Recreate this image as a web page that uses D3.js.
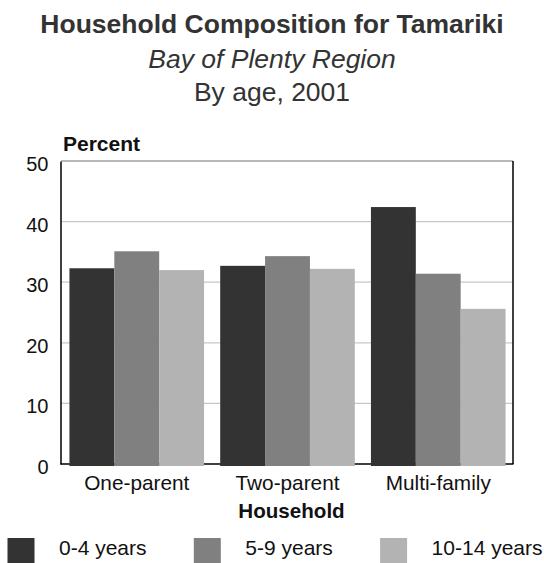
<!DOCTYPE html>
<html><head><meta charset="utf-8">
<script src="https://cdn.jsdelivr.net/npm/d3@7"></script>
<style>body{margin:0;background:#fff}svg{display:block}text{font-family:"Liberation Sans",Arial,sans-serif}</style>
</head><body>
<script>
const categories = ["One-parent", "Two-parent", "Multi-family"];
const seriesNames = ["0-4 years", "5-9 years", "10-14 years"];
const age0to4 = [32.3, 32.7, 42.4];
const age5to9 = [35.1, 34.3, 31.4];
const age10to14 = [32.0, 32.2, 25.6];
const yTicks = [0, 10, 20, 30, 40, 50];
const colors = ["#333333", "#808080", "#b3b3b3"];

const values = [age0to4, age5to9, age10to14];
const W = 544, H = 563;
const svg = d3.select("body").append("svg").attr("width", W).attr("height", H);

const x0 = d3.scaleBand().domain(categories).range([61, 514]).paddingInner(0.107).paddingOuter(0.056);
const x1 = d3.scaleBand().domain(seriesNames).range([0, x0.bandwidth()]);
const y = d3.scaleLinear().domain([0, 50]).range([464, 161]);
const color = d3.scaleOrdinal().domain(seriesNames).range(colors);

// titles
svg.append("text").attr("x", W/2).attr("y", 33).attr("text-anchor","middle")
  .style("font-size","26.5px").style("font-weight","bold").attr("fill","#333").text("Household Composition for Tamariki");
svg.append("text").attr("x", W/2).attr("y", 68).attr("text-anchor","middle")
  .style("font-size","26.5px").style("font-style","italic").attr("fill","#333").text("Bay of Plenty Region");
svg.append("text").attr("x", W/2).attr("y", 101).attr("text-anchor","middle")
  .style("font-size","26.5px").attr("fill","#333").text("By age, 2001");

// gridlines
svg.append("g").selectAll("line").data(yTicks.filter(d => d > 0 && d < 50)).join("line")
  .attr("x1", 61).attr("x2", 513).attr("y1", d => y(d)).attr("y2", d => y(d))
  .attr("stroke", "#c8c8c8").attr("stroke-width", 1.2);
// top border
svg.append("line").attr("x1", 61).attr("x2", 513).attr("y1", y(50)).attr("y2", y(50))
  .attr("stroke", "#a0a0a0").attr("stroke-width", 1.5);
// right border
svg.append("line").attr("x1", 513).attr("x2", 513).attr("y1", y(50)).attr("y2", y(0))
  .attr("stroke", "#000").attr("stroke-width", 1.5);

// y axis
const yAxis = d3.axisLeft(y).tickValues(yTicks).tickSize(0).tickPadding(12);
const gy = svg.append("g").attr("transform", "translate(60.5,0)").call(yAxis);
gy.select(".domain").attr("stroke", "#000").attr("stroke-width", 1.5);
gy.selectAll("text").style("font-size","20px").attr("fill","#111").attr("dy","0.47em");

// x axis
const xAxis = d3.axisBottom(x0).tickSize(0).tickPadding(11);
const gx = svg.append("g").attr("transform", "translate(0,464)").call(xAxis);
gx.select(".domain").attr("d", "M60.5,0H513.5").attr("stroke", "#000").attr("stroke-width", 1.5);
gx.selectAll("text").style("font-size","20.8px").attr("fill","#111").attr("dy","0.72em");

// bars
const groups = svg.append("g").selectAll("g").data(categories).join("g")
  .attr("transform", c => `translate(${x0(c)},0)`);
groups.selectAll("rect").data((c, i) => seriesNames.map((s, j) => ({ s, v: values[j][i] }))).join("rect")
  .attr("x", d => x1(d.s)).attr("width", x1.bandwidth())
  .attr("y", d => y(d.v)).attr("height", d => y(0) - y(d.v) + 2)
  .attr("fill", d => color(d.s));

// axis titles
svg.append("text").attr("x", 63).attr("y", 151).style("font-size","21px").style("font-weight","bold")
  .attr("fill","#111").text("Percent");
svg.append("text").attr("x", 291.5).attr("y", 518).attr("text-anchor","middle")
  .style("font-size","20.6px").style("font-weight","bold").attr("fill","#111").text("Household");

// legend
const leg = svg.append("g").selectAll("g").data(seriesNames).join("g")
  .attr("transform", (d, i) => `translate(${7.5 + i*186.3},0)`);
leg.append("rect").attr("x", 0).attr("y", 538).attr("width", 27).attr("height", 27).attr("fill", d => color(d));
leg.append("text").attr("x", 51.5).attr("y", 554.5).style("font-size","21px").attr("fill","#111").text(d => d);
</script>
</body></html>
